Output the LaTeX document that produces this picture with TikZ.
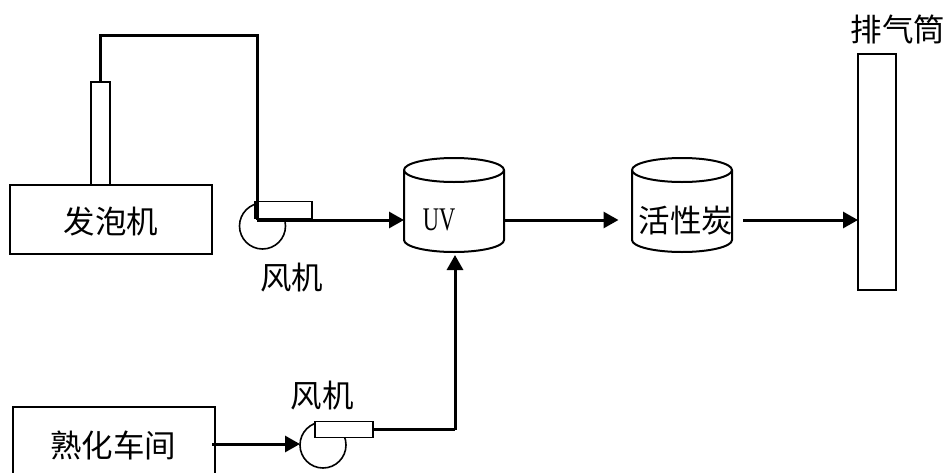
\documentclass[tikz,border=0pt]{standalone}
\usepackage{fontspec}
\usetikzlibrary{arrows.meta}
\newfontfamily\cjk{Noto Sans CJK SC}
\setmainfont{Liberation Serif}
\tikzset{
  boxa/.style={draw,line width=1.9pt,inner sep=0pt,outer sep=0pt},
  tag/.style={inner sep=0pt,font=\cjk\fontsize{31.5}{31.5}\selectfont},
  pipe/.style={line width=3pt,line join=miter},
  flow/.style={pipe,-{Triangle[length=15pt,width=16pt]}},
  drum/.style={inner sep=0pt,outer sep=0pt,minimum width=100pt,minimum height=70pt},
  drumline/.style={line width=2pt},
  fan/.style={draw,line width=1.6pt,circle,inner sep=0pt,outer sep=0pt,minimum size=46pt},
  duct/.style={draw,fill=white,line width=1.9pt,inner sep=0pt,outer sep=0pt}
}
\newcommand{\drumshape}[1]{%
  \draw[drumline] (#1.north west) arc[start angle=180,end angle=-180,x radius=50pt,y radius=12pt]
    (#1.north west) -- (#1.south west)
    arc[start angle=180,end angle=360,x radius=50pt,y radius=12pt] -- (#1.north east);}
\begin{document}
\begin{tikzpicture}[x=1pt,y=-1pt]
\useasboundingbox (0,0) rectangle (946,472);
\clip (0,0) rectangle (946,472);
% machines
\node[boxa,minimum width=202pt,minimum height=69pt] (foam) at (111,219.5) {};
\node[tag] (foamt) at (111,222) {发泡机};
\node[boxa,minimum width=19pt,minimum height=103pt] (stack) at (100.5,133.5) {};
\node[boxa,minimum width=202pt,minimum height=90pt] (cure) at (114,452) {};
\node[tag] (curet) at (113,445) {熟化车间};
% fans
\node[fan] (fanA) at (262.5,226) {};
\node[duct,minimum width=57pt,minimum height=17pt] (ductA) at (283.5,210) {};
\node[tag] (fanAt) at (291.5,278) {风机};
\node[fan] (fanB) at (323,445) {};
\node[duct,minimum width=58pt,minimum height=16pt] (ductB) at (344,429.5) {};
\node[tag] (fanBt) at (322,396) {风机};
% tanks
\node[drum] (uv) at (454,205) {};
\drumshape{uv}
\node[inner sep=0pt,font=\fontsize{33}{33}\selectfont,xscale=0.68,transform shape] (uvt) at (439,220) {UV};
\node[drum] (carbon) at (682,205) {};
\drumshape{carbon}
\node[tag] (carbont) at (686,221) {活性炭};
% exhaust
\node[boxa,minimum width=38pt,minimum height=236pt] (chim) at (877,172) {};
\node[tag] (chimt) at (898,29) {排气筒};
% connectors
\coordinate (a1) at (100.5,35);
\coordinate (a2) at (257,35);
\coordinate (a3) at (257,220);
\draw[pipe] (stack.north) -- (a1) -- (a2) -- (a3);
\draw[flow] (a3) -- (uv.west |- a3);
\coordinate (b1) at (504,220);
\coordinate (b2) at (618.5,220);
\draw[flow] (b1) -- (b2);
\coordinate (c1) at (743,220);
\draw[flow] (c1) -- (chim.west |- c1);
\coordinate (d1) at (212,444);
\draw[flow] (d1) -- (fanB.west |- d1);
\coordinate (e1) at (455,429.5);
\coordinate (e2) at (455,255);
\draw[pipe] (ductB.east) -- (e1);
\draw[flow] (e1) -- (e2);
\end{tikzpicture}
\end{document}
